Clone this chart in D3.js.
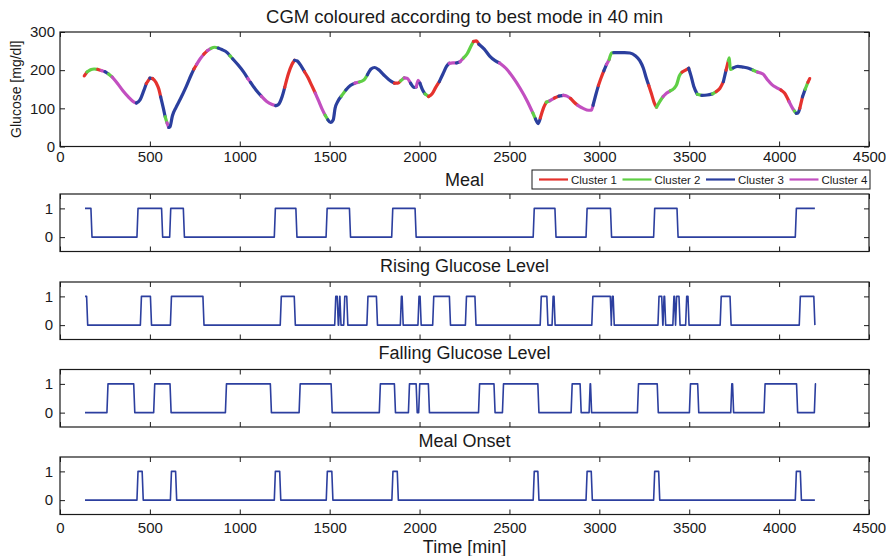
<!DOCTYPE html>
<html>
<head>
<meta charset="utf-8">
<script src="https://cdn.jsdelivr.net/npm/d3@7"></script>
<style>
  body { margin: 0; background: #fff; }
  svg { display: block; font-family: "Liberation Sans", Arial, Helvetica, sans-serif; }
</style>
</head>
<body>
<svg width="886" height="556"></svg>
<script>
// CGM trace: time [min], glucose [mg/dl], cluster (1-4) of the piece that starts there
var cgmTime = [135,150,170,190,210,230,250,270,290,320,350,380,410,425,445,465,480,500,515,535,550,560,575,585,595,605,612,625,645,670,700,730,745,760,780,800,820,840,860,880,900,930,945,960,990,1020,1045,1060,1090,1120,1150,1180,1200,1215,1235,1250,1270,1290,1305,1320,1340,1360,1380,1400,1420,1440,1460,1475,1490,1505,1520,1530,1545,1565,1590,1615,1640,1665,1690,1710,1730,1750,1770,1800,1830,1860,1880,1895,1915,1930,1950,1970,1982,1992,2002,2015,2030,2050,2070,2090,2110,2130,2150,2165,2185,2205,2225,2245,2265,2285,2300,2315,2330,2360,2390,2420,2445,2480,2520,2560,2600,2630,2645,2660,2672,2690,2705,2725,2750,2775,2800,2820,2840,2860,2880,2910,2940,2955,2965,2980,2995,3010,3025,3040,3055,3068,3080,3110,3140,3170,3200,3225,3245,3262,3275,3290,3305,3318,3335,3355,3375,3395,3415,3430,3445,3460,3480,3497,3510,3525,3545,3570,3600,3630,3650,3670,3690,3705,3718,3723,3728,3745,3770,3800,3830,3855,3880,3910,3935,3960,3990,4010,4030,4055,4075,4085,4095,4105,4115,4130,4145,4160,4170];
var cgmValue = [185,195,201,203,202,199,196,190,182,165,146,130,117,114,122,145,165,179,178,167,150,130,100,78,62,50,52,80,102,125,155,188,203,215,230,242,251,257,260,258,254,246,238,230,214,196,178,168,148,132,118,110,107,110,130,155,190,215,226,224,212,196,180,160,140,118,96,82,70,63,70,100,118,132,148,160,166,169,174,188,203,207,202,188,175,166,166,172,180,179,166,155,156,173,166,150,138,131,138,155,170,190,210,218,219,219,222,232,243,262,275,277,268,255,237,225,219,205,181,152,118,88,72,60,75,102,116,120,127,132,134,132,126,116,108,100,95,95,108,135,160,180,198,215,228,245,246,246,246,245,238,225,205,178,160,138,115,103,117,131,140,146,152,162,185,195,200,205,185,158,137,134,135,138,144,152,170,200,225,232,202,206,210,208,205,200,195,190,175,162,153,148,140,118,100,93,87,88,100,130,150,168,178];
var cgmCluster = [1,2,2,2,1,4,3,2,4,4,4,4,4,3,3,3,1,3,1,1,1,3,3,2,4,3,3,3,3,3,3,3,1,4,4,1,4,2,2,3,3,3,2,3,3,3,4,3,3,4,4,4,3,3,3,1,1,1,3,3,3,1,1,1,4,4,4,2,3,3,3,3,3,2,3,3,4,2,2,3,3,3,3,3,3,1,1,2,4,4,3,3,4,4,3,3,2,1,1,1,3,3,3,4,4,3,4,2,2,2,1,1,3,3,3,3,4,4,4,4,4,2,3,3,1,1,2,4,1,3,4,4,1,1,4,4,4,4,3,3,1,1,3,4,2,2,3,3,3,3,3,3,3,3,1,1,1,2,2,4,4,2,2,2,2,1,1,3,3,3,2,3,3,2,1,1,3,1,2,2,2,3,3,3,3,2,4,4,4,4,4,1,1,4,4,2,3,3,1,3,2,1,1];

var clusterNames = ["Cluster 1", "Cluster 2", "Cluster 3", "Cluster 4"];
var clusterColours = ["#e5322d", "#5fcf45", "#2b3f9e", "#c24fc0"];

// binary indicators: intervals [start, end] where the signal is 1
var seriesStart = 139, seriesEnd = 4199;
var mealOn = [[139,172],[428,565],[610,686],[1192,1312],[1480,1610],[1845,1975],[2632,2753],[2926,3062],[3302,3432],[4090,4199]];
var risingOn = [[139,148],[447,503],[614,795],[1225,1303],[1528,1542],[1550,1557],[1578,1595],[1707,1760],[1893,1903],[1991,2003],[2073,2166],[2255,2308],[2671,2708],[2737,2748],[2958,3061],[3066,3077],[3326,3347],[3354,3363],[3409,3418],[3424,3443],[3480,3493],[3672,3727],[4112,4193]];
var fallingOn = [[261,410],[521,612],[920,1170],[1330,1508],[1776,1860],[1938,1981],[1995,2049],[2328,2414],[2461,2658],[2843,2893],[2943,2951],[3212,3322],[3501,3547],[3731,3741],[3916,4097],[4196,4199]];
var onsetOn = [[428,457],[614,643],[1192,1222],[1481,1512],[1846,1876],[2632,2658],[2926,2955],[3302,3330],[4090,4118]];

var xTicks = [0, 500, 1000, 1500, 2000, 2500, 3000, 3500, 4000, 4500];
var glucoseTicks = [0, 100, 200, 300];
var binaryTicks = [0, 1];

var svg = d3.select("svg");
var left = 60, right = 869;
var ink = "#1a1a1a", lineBlue = "#2c3f9f";
var fontFamily = '"Liberation Sans", Arial, Helvetica, sans-serif';

var x = d3.scaleLinear().domain([0, 4500]).range([left, right]);

function drawAxes(y, top, bottom, yTicks, showX, xPad, yPad) {
    var g = svg.append("g");
    g.append("g").attr("transform", "translate(0," + bottom + ")")
        .call(d3.axisBottom(x).tickValues(xTicks).tickSize(-5).tickPadding(xPad)
            .tickFormat(showX ? d3.format("d") : ""));
    g.append("g").attr("transform", "translate(0," + top + ")")
        .call(d3.axisTop(x).tickValues(xTicks).tickSize(-5).tickFormat(""));
    g.append("g").attr("transform", "translate(" + left + ",0)")
        .call(d3.axisLeft(y).tickValues(yTicks).tickSize(-5).tickPadding(yPad).tickFormat(d3.format("d")));
    g.append("g").attr("transform", "translate(" + right + ",0)")
        .call(d3.axisRight(y).tickValues(yTicks).tickSize(-5).tickFormat(""));
    g.selectAll(".domain").remove();
    g.selectAll(".tick line").attr("stroke", ink);
    g.selectAll(".tick text").attr("fill", ink).attr("font-size", 15).attr("font-family", fontFamily);
    g.append("rect")
        .attr("x", left).attr("y", top)
        .attr("width", right - left).attr("height", bottom - top)
        .attr("fill", "none").attr("stroke", ink).attr("stroke-width", 1.2);
}

function title(text, cy, size) {
    svg.append("text")
        .attr("x", (left + right) / 2).attr("y", cy).attr("dy", "0.35em")
        .attr("text-anchor", "middle").attr("font-size", size).attr("fill", ink)
        .text(text);
}

// ---- top panel: CGM coloured by cluster
var topY0 = 32, topY1 = 146.5;
var yG = d3.scaleLinear().domain([0, 300]).range([topY1, topY0]);

var cgm = cgmTime.map(function(t, i) { return {t: t, v: cgmValue[i], c: cgmCluster[i]}; });
var runs = [];
cgm.forEach(function(d, i) {
    if (i === cgm.length - 1) return;
    var last = runs[runs.length - 1];
    if (last && last.c === d.c) last.pts.push(cgm[i + 1]);
    else runs.push({c: d.c, pts: [d, cgm[i + 1]]});
});

var cgmLine = d3.line()
    .x(function(d) { return x(d.t); })
    .y(function(d) { return yG(d.v); })
    .curve(d3.curveMonotoneX);

drawAxes(yG, topY0, topY1, glucoseTicks, true, 5, 5);

svg.append("g").selectAll("path")
    .data(runs)
  .enter().append("path")
    .attr("d", function(d) { return cgmLine(d.pts); })
    .attr("fill", "none")
    .attr("stroke", function(d) { return clusterColours[d.c - 1]; })
    .attr("stroke-width", 3.2)
    .attr("stroke-linecap", "round");

title("CGM coloured according to best mode in 40 min", 17, 18.5);

svg.append("text")
    .attr("transform", "translate(16," + (topY0 + topY1) / 2 + ") rotate(-90)")
    .attr("text-anchor", "middle").attr("dy", "0.35em")
    .attr("font-size", 14).attr("fill", ink)
    .text("Glucose [mg/dl]");

// legend
var legend = svg.append("g");
legend.append("rect")
    .attr("x", 532).attr("y", 170).attr("width", 338).attr("height", 19)
    .attr("fill", "#fff").attr("stroke", ink).attr("stroke-width", 1);
var items = legend.selectAll(".item")
    .data(clusterNames)
  .enter().append("g")
    .attr("transform", function(d, i) { return "translate(" + (539 + i * 83.5) + ",179.5)"; });
items.append("line")
    .attr("x1", 0).attr("x2", 29)
    .attr("stroke", function(d, i) { return clusterColours[i]; })
    .attr("stroke-width", 2.2);
items.append("text")
    .attr("x", 32).attr("dy", "0.35em")
    .attr("font-size", 11.5).attr("fill", ink)
    .text(function(d) { return d; });

// ---- binary panels
var panels = [
    {name: "Meal", on: mealOn, top: 194, titleY: 180},
    {name: "Rising Glucose Level", on: risingOn, top: 282, titleY: 266},
    {name: "Falling Glucose Level", on: fallingOn, top: 369.5, titleY: 353},
    {name: "Meal Onset", on: onsetOn, top: 457, titleY: 441}
];
var panelH = 57.5, rise = 6;

function stepPoints(on) {
    var pts = [];
    var v0 = on[0][0] <= seriesStart ? 1 : 0;
    pts.push([seriesStart, v0]);
    on.forEach(function(iv) {
        if (iv[0] > seriesStart) { pts.push([iv[0], 0]); pts.push([iv[0] + rise, 1]); }
        if (iv[1] < seriesEnd) { pts.push([iv[1], 1]); pts.push([iv[1] + rise, 0]); }
        else pts.push([seriesEnd, 1]);
    });
    var last = on[on.length - 1];
    if (last[1] < seriesEnd) pts.push([seriesEnd, 0]);
    return pts;
}

panels.forEach(function(p, k) {
    var bottom = p.top + panelH;
    var y = d3.scaleLinear().domain([-0.5, 1.5]).range([bottom, p.top]);
    var isLast = k === panels.length - 1;
    drawAxes(y, p.top, bottom, binaryTicks, isLast, 7.5, 7);
    var line = d3.line()
        .x(function(d) { return x(d[0]); })
        .y(function(d) { return y(d[1]); });
    svg.append("path")
        .attr("d", line(stepPoints(p.on)))
        .attr("fill", "none")
        .attr("stroke", lineBlue)
        .attr("stroke-width", 1.6)
        .attr("stroke-linejoin", "round");
    title(p.name, p.titleY, 18);
});

svg.append("text")
    .attr("x", (left + right) / 2).attr("y", 547).attr("dy", "0.35em")
    .attr("text-anchor", "middle").attr("font-size", 18).attr("fill", ink)
    .text("Time [min]");
</script>
</body>
</html>
